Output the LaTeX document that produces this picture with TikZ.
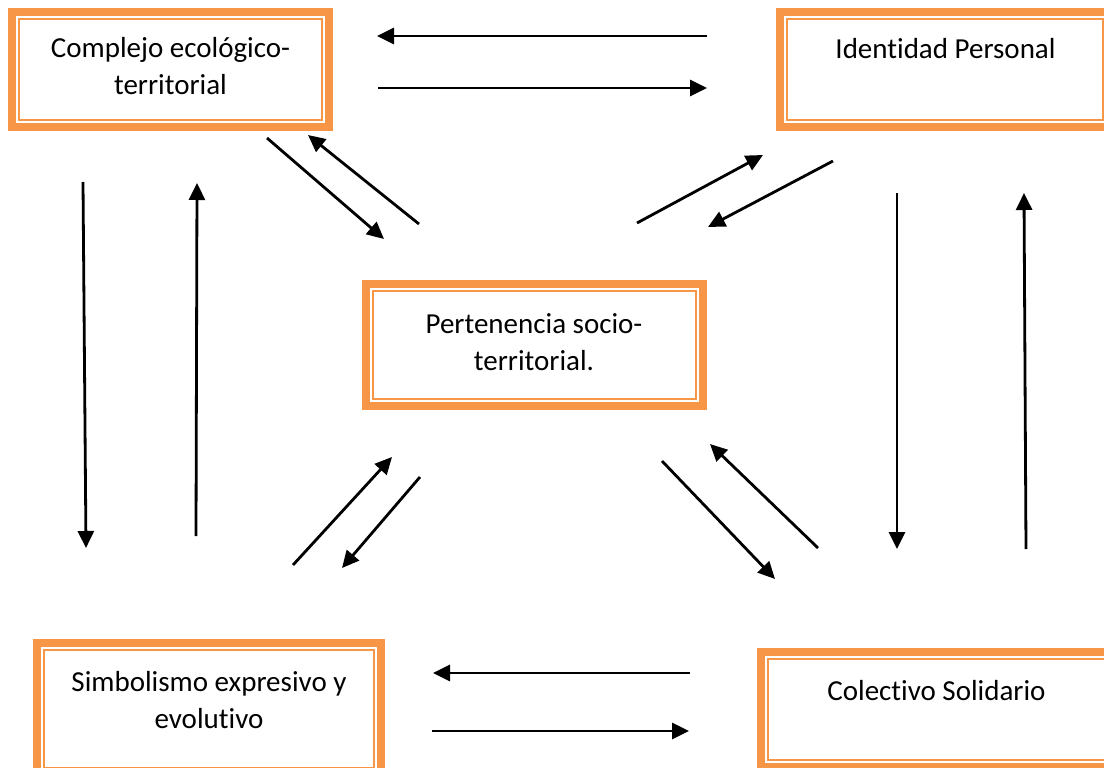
\documentclass[tikz,border=0pt]{standalone}
\usepackage{fontspec}
\setmainfont[Ligatures=NoCommon]{Carlito}
\usetikzlibrary{arrows.meta}
\definecolor{boxorange}{HTML}{F79646}
\begin{document}
\begin{tikzpicture}[x=1pt,y=-1pt,
  box/.style={draw=boxorange, line width=8pt, rectangle, inner sep=0pt, outer sep=0pt,
    path picture={\draw[boxorange, line width=1.8pt]
      ([shift={(7pt,-7pt)}]path picture bounding box.north west) rectangle
      ([shift={(-7pt,7pt)}]path picture bounding box.south east);}},
  lbl/.style={anchor=base, align=center, inner sep=0pt, font=\fontsize{29}{37}\selectfont},
  arr/.style={line width=2.8pt, -{Triangle[length=17pt,width=16pt]}}]
\useasboundingbox (0,0) rectangle (1104,768);
\clip (0,0) rectangle (1104,768);
\node[box, minimum width=317pt, minimum height=115pt] (b1) at (170.5,69.5) {};
\node[box, minimum width=330pt, minimum height=115pt] (b2) at (945,69.5) {};
\node[box, minimum width=337pt, minimum height=122pt] (b3) at (534.5,345) {};
\node[box, minimum width=344pt, minimum height=132pt] (b4) at (209,709) {};
\node[box, minimum width=351pt, minimum height=115pt] (b5) at (936.5,709.5) {};
\node[lbl] (t1) at (170.5,95) {Complejo ecológico-\\territorial};
\node[lbl] (t2) at (945.5,59) {Identidad Personal};
\node[lbl] (t3) at (534,370) {Pertenencia socio-\\territorial.};
\node[lbl] (t4) at (209,728) {Simbolismo expresivo y\\evolutivo};
\node[lbl] (t5) at (936.5,700) {Colectivo Solidario};
\foreach \n/\a/\b in {
  1/{707,36}/{377,36}, 2/{378,88}/{707,88},
  3/{267,138}/{384,239}, 4/{419,224}/{308,135},
  5/{637,223}/{763,155}, 6/{833,161}/{708,227},
  7/{83,182}/{86,548}, 8/{196,536}/{197,183},
  9/{897,193}/{897,549}, 10/{1026,549}/{1024,193},
  11/{293,565}/{392,457}, 12/{420,477}/{342,568},
  13/{662,461}/{775,579}, 14/{818,548}/{710,444},
  15/{690,673}/{433,673}, 16/{432,731}/{689,731}} {
  \coordinate (s\n) at (\a);
  \coordinate (e\n) at (\b);
  \draw[arr] (s\n) -- (e\n);
}
\end{tikzpicture}
\end{document}
